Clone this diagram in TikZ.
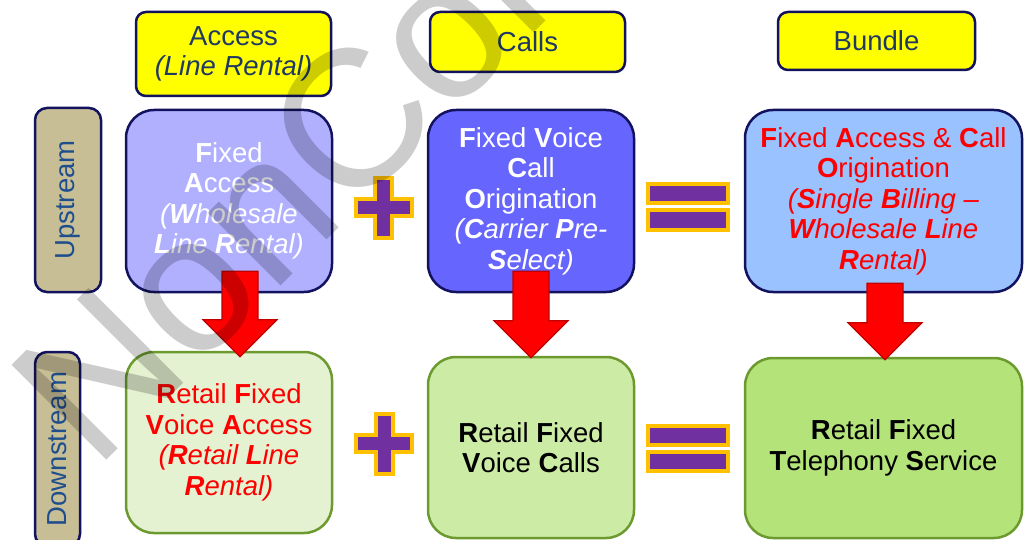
\documentclass[tikz,border=0pt]{standalone}
\usepackage{fontspec}
\setmainfont{Liberation Sans}
\usetikzlibrary{positioning, calc}
\NewDocumentCommand{\ini}{m}{\textbf{#1}}
\NewDocumentCommand{\redarrow}{mm}{%
  \draw[redarr] let \p1 = (#1), \p2 = (#2) in
    (\x1-18pt,\y1) -- (\x1+18pt,\y1) -- (\x1+18pt,\y2+37pt) -- (\x1+37pt,\y2+37pt)
    -- (\x1,\y2) -- (\x1-37pt,\y2+37pt) -- (\x1-18pt,\y2+37pt) -- cycle;}
\definecolor{navy}{HTML}{12125E}
\definecolor{headyellow}{HTML}{FFFF00}
\definecolor{headtext}{HTML}{1F3864}
\definecolor{sidetan}{HTML}{C8BE96}
\definecolor{sidetext}{HTML}{1F4E8C}
\definecolor{lavender}{HTML}{B0B0FF}
\definecolor{voiceblue}{HTML}{6666FF}
\definecolor{skyblue}{HTML}{99C2FF}
\definecolor{palegreen}{HTML}{E4F2D2}
\definecolor{midgreen}{HTML}{CCECA6}
\definecolor{leafgreen}{HTML}{B4E37A}
\definecolor{greenedge}{HTML}{6C9A2F}
\definecolor{darkred}{HTML}{C00000}
\definecolor{signpurple}{HTML}{7030A0}
\definecolor{signgold}{HTML}{FFC000}

\begin{document}
\begin{tikzpicture}[x=1pt, y=-1pt,
    txt/.style = {font=\fontsize{27.5}{30.5}\selectfont},
    head/.style = {txt, draw=navy, line width=2.5pt, rounded corners=10pt, fill=headyellow,
                   text=headtext, align=center, inner sep=0pt},
    side/.style = {txt, draw=navy, line width=2.5pt, rounded corners=12pt, fill=sidetan,
                   text=sidetext, inner sep=0pt, rotate=90},
    main/.style = {txt, draw=navy, line width=2.5pt, rounded corners=28pt, align=center,
                   inner sep=0pt, minimum height=182pt},
    retail/.style = {main, draw=greenedge, minimum height=181pt},
    redarr/.style = {fill=red, draw=darkred, line width=1.2pt, line join=miter},
    sign/.style = {fill=signpurple, draw=signgold, line width=4pt, line join=miter},
    plus/.pic = {\draw[sign] (-8.5,-30) -- (8.5,-30) -- (8.5,-8.5) -- (28,-8.5) -- (28,8.5)
                 -- (8.5,8.5) -- (8.5,30) -- (-8.5,30) -- (-8.5,8.5) -- (-28,8.5)
                 -- (-28,-8.5) -- (-8.5,-8.5) -- cycle;},
    equals/.pic = {\draw[sign] (-40,-22.5) rectangle (40,-3.5);
                   \draw[sign] (-40,3.5) rectangle (40,22.5);},
    wmark/.style = {anchor=base west, inner sep=0pt, rotate=45, text=black, opacity=0.2,
                    font=\fontsize{195}{195}\selectfont}]
    \useasboundingbox (0,0) rectangle (1025,540);
    \clip (0,0) rectangle (1025,540);

    % column headings
    \node[head, minimum width=195pt, minimum height=84pt] (hacc) at (233.5,54)
        {Access\\\textit{(Line Rental)}};
    \node[head, minimum width=195pt, minimum height=60pt] (hcall) at (527.5,42) {Calls};
    \node[head, minimum width=197pt, minimum height=58pt] (hbund) at (876.5,41) {Bundle};

    % row labels
    \node[side, minimum width=184pt, minimum height=66pt] (lup) at (68,200) {Upstream};
    \node[side, minimum width=194pt, minimum height=45pt] (ldown) at (57.5,449) {Downstream};

    % upstream
    \node[main, fill=lavender, text=white, minimum width=206pt] (fixacc) at (229,201)
        {\ini{F}ixed\\\ini{A}ccess\\\textit{(\ini{W}holesale}\\\textit{\ini{L}ine \ini{R}ental)}};
    \node[main, fill=voiceblue, text=white, minimum width=206pt] (fixvoice) at (531,201)
        {\ini{F}ixed \ini{V}oice\\\ini{C}all\\\ini{O}rigination\\\textit{(\ini{C}arrier \ini{P}re-}\\\textit{\ini{S}elect)}};
    \node[main, fill=skyblue, text=red, minimum width=277pt] (fixbund) at (883.5,201)
        {\ini{F}ixed \ini{A}ccess \& \ini{C}all\\\ini{O}rigination\\\textit{(\ini{S}ingle \ini{B}illing –}\\\textit{\ini{W}holesale \ini{L}ine}\\\textit{\ini{R}ental)}};

    % downstream
    \node[retail, fill=palegreen, text=red, minimum width=206pt] (retacc) at (229,442.5)
        {\ini{R}etail \ini{F}ixed\\\ini{V}oice \ini{A}ccess\\\textit{(\ini{R}etail \ini{L}ine}\\\textit{\ini{R}ental)}};
    \node[retail, fill=midgreen, minimum width=206pt] (retcall) at (531,447.5)
        {\ini{R}etail \ini{F}ixed\\\ini{V}oice \ini{C}alls};
    \node[retail, fill=leafgreen, minimum width=277pt, minimum height=180pt] (rettel) at (883.5,448)
        {\ini{R}etail \ini{F}ixed\\\ini{T}elephony \ini{S}ervice};

    % red arrows, upstream to downstream
    \coordinate (a1) at ($(fixacc.south)+(11,-22)$);
    \coordinate (b1) at ($(retacc.north)+(11,6)$);
    \coordinate (a2) at ($(fixvoice.south)+(0,-22)$);
    \coordinate (b2) at ($(retcall.north)+(0,2)$);
    \coordinate (a3) at ($(fixbund.south)+(1.5,-10)$);
    \coordinate (b3) at ($(rettel.north)+(1.5,3)$);
    \redarrow{a1}{b1}
    \redarrow{a2}{b2}
    \redarrow{a3}{b3}

    % plus and equals
    \pic at (383.5,208) {plus};
    \pic at (384,443.5) {plus};
    \pic at (688,207) {equals};
    \pic at (688,448.5) {equals};

    % watermark
    \node[wmark] (wm) at (95,472) {NonCommercial};
\end{tikzpicture}
\end{document}
